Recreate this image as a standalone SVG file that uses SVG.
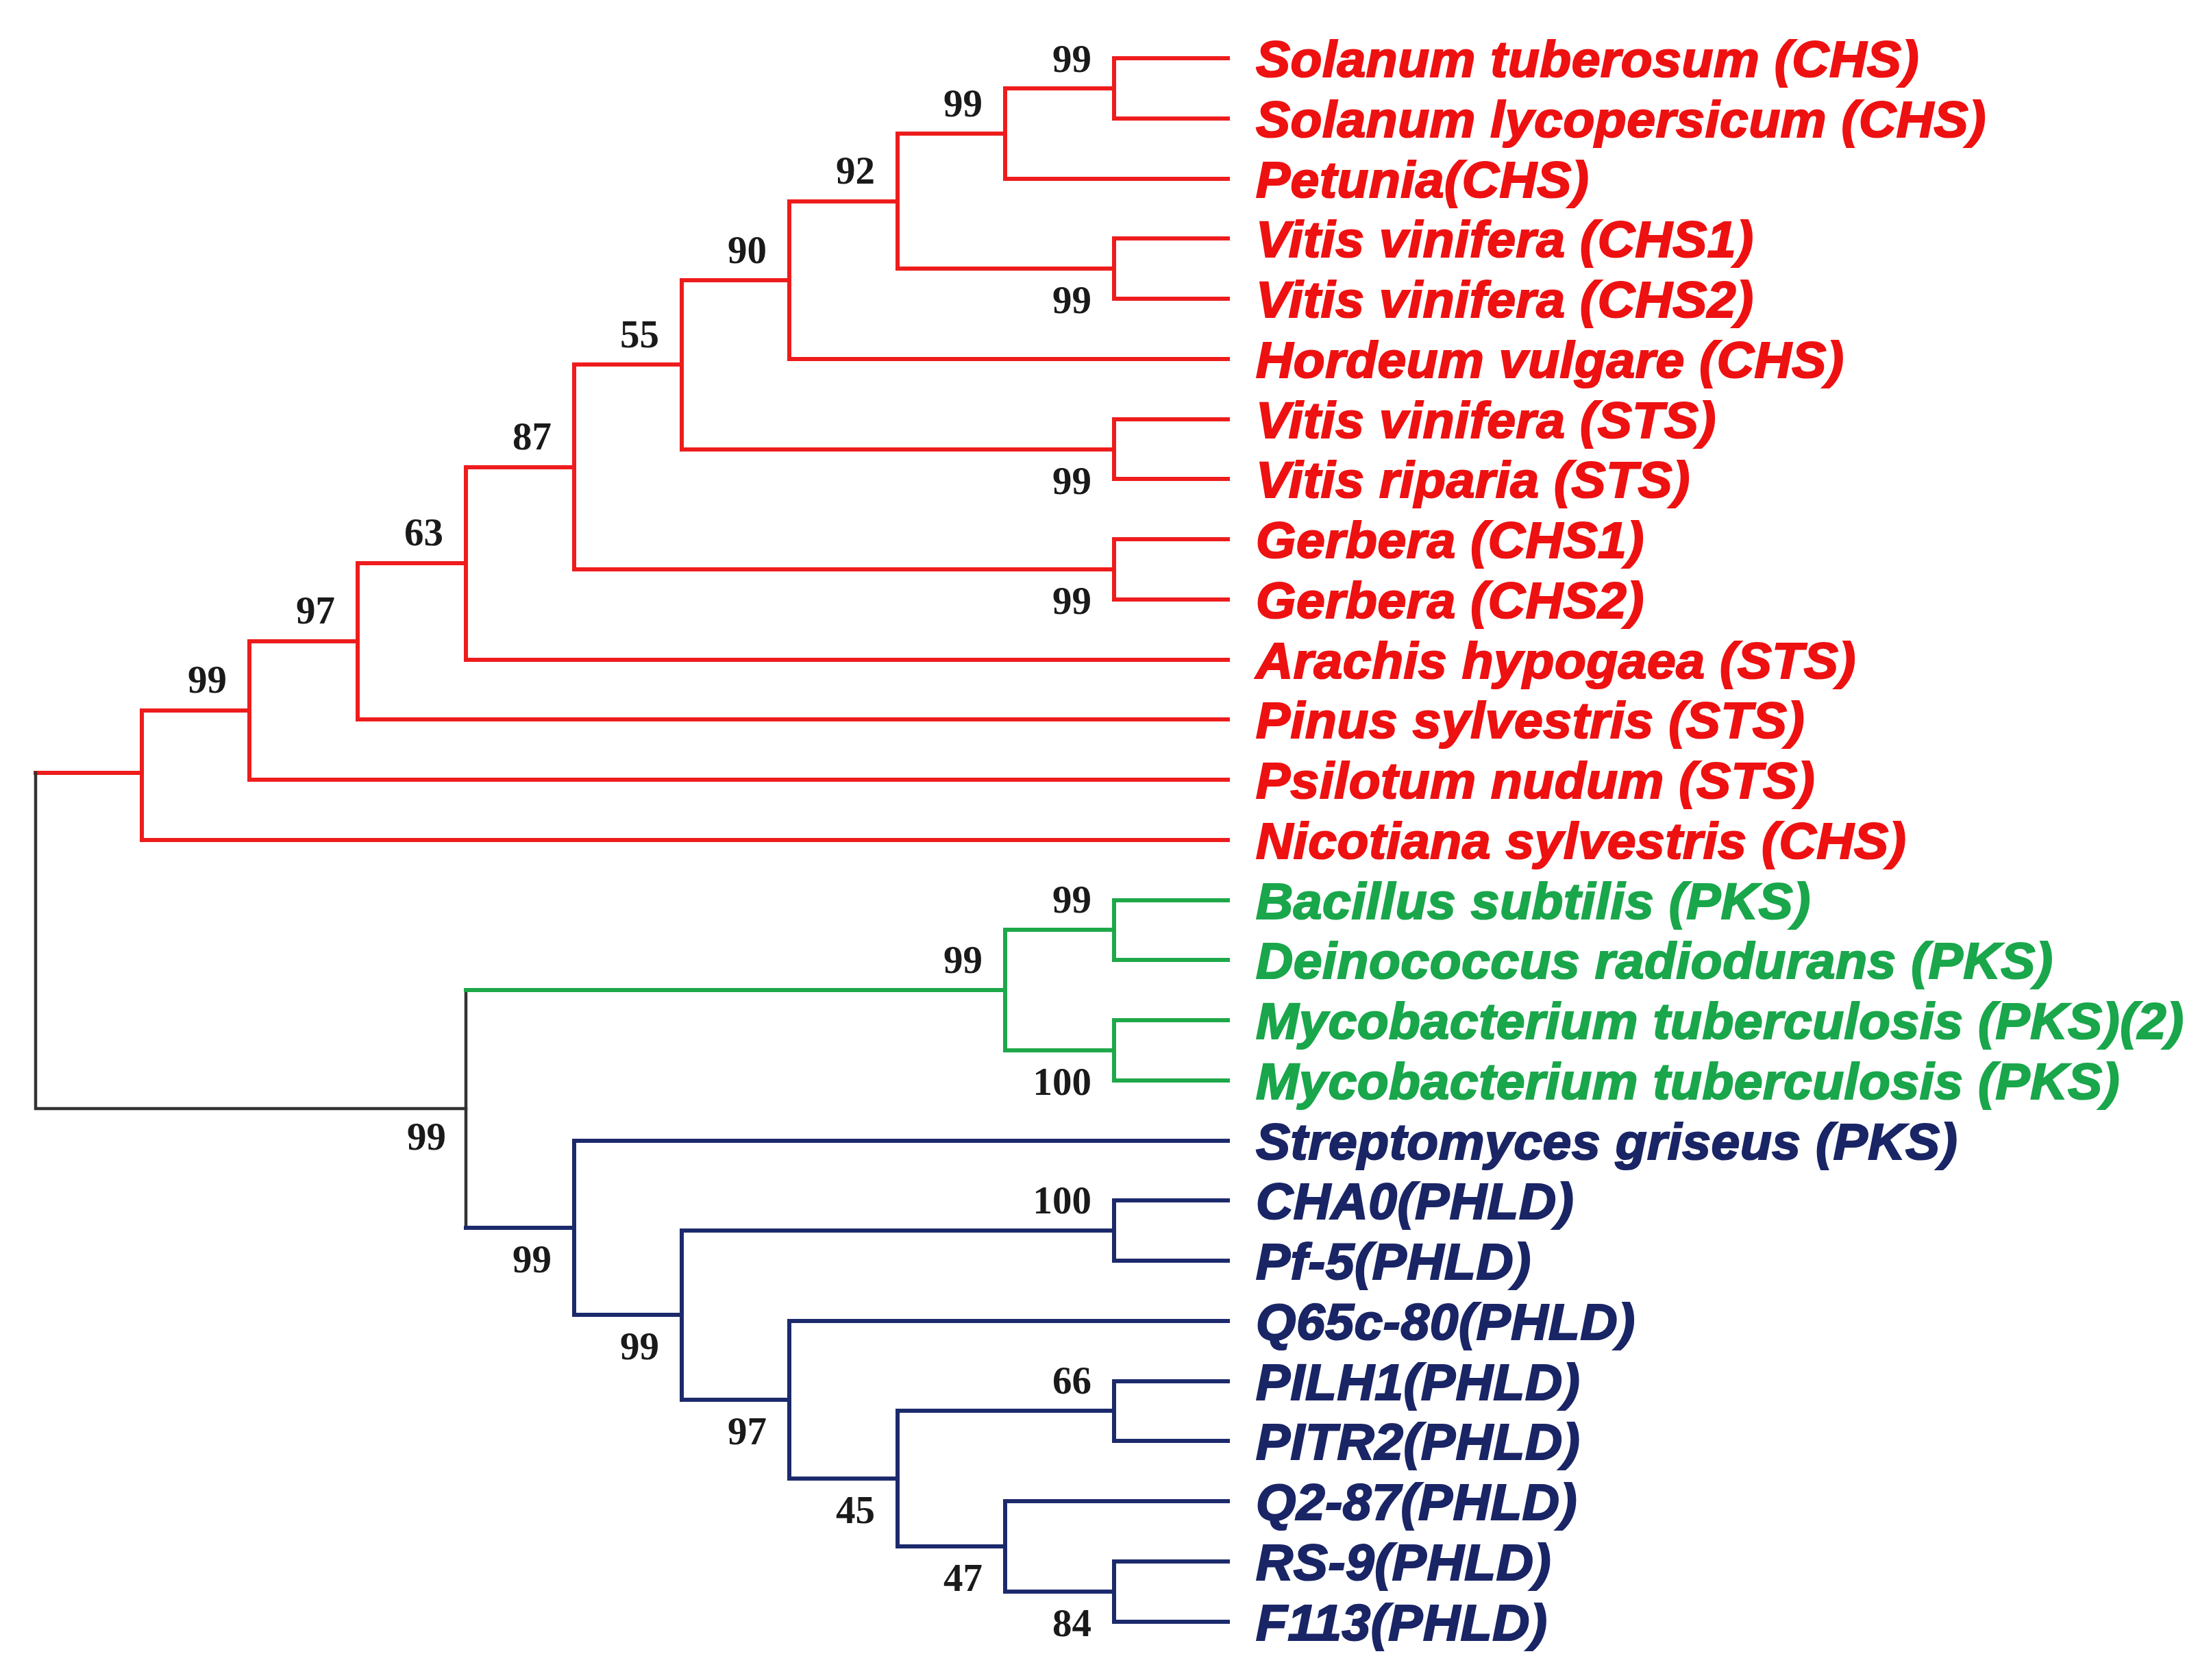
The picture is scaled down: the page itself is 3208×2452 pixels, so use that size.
<svg xmlns="http://www.w3.org/2000/svg" width="3208" height="2452" viewBox="0 0 3208 2452">
<style>
.br{fill:none;stroke-width:6;stroke-linecap:square;stroke-linejoin:miter}
.r{stroke:#ee1c1c}
.g{stroke:#1ea84a}
.b{stroke:#1c2a6c}
.k{stroke:#333333;stroke-width:4.5}
.lf{font-family:"Liberation Sans",Arial,sans-serif;font-weight:bold;font-style:italic;font-size:75px;letter-spacing:0.6px;stroke-width:2.2}
.lr{fill:#ee1111;stroke:#ee1111}
.lg{fill:#1aa64b;stroke:#1aa64b}
.lb{fill:#1a2566;stroke:#1a2566}
.bs{font-family:"Liberation Serif","Times New Roman",serif;font-weight:bold;font-size:57px;fill:#1a1a1a;text-anchor:end}
</style>
<rect width="3208" height="2452" fill="#ffffff"/>
<g id="connectors">
<path class="br r" d="M1792 85 H1626 V173 H1792"/>
<path class="br r" d="M1626 129 H1467 V261 H1792"/>
<path class="br r" d="M1792 348 H1626 V436 H1792"/>
<path class="br r" d="M1467 195 H1310 V392 H1626"/>
<path class="br r" d="M1310 294 H1152 V524 H1792"/>
<path class="br r" d="M1792 612 H1626 V699 H1792"/>
<path class="br r" d="M1152 409 H995 V656 H1626"/>
<path class="br r" d="M1792 787 H1626 V875 H1792"/>
<path class="br r" d="M995 532 H838 V831 H1626"/>
<path class="br r" d="M838 682 H680 V963 H1792"/>
<path class="br r" d="M680 822 H522 V1050 H1792"/>
<path class="br r" d="M522 936 H364 V1138 H1792"/>
<path class="br r" d="M364 1037 H207 V1226 H1792"/>
<path class="br r" d="M207 1128 H52"/>
<path class="br k" d="M52 1128 V1618 H680"/>
<path class="br k" d="M680 1445 V1792"/>
<path class="br g" d="M680 1445 H1467"/>
<path class="br g" d="M1792 1314 H1626 V1401 H1792"/>
<path class="br g" d="M1792 1489 H1626 V1577 H1792"/>
<path class="br g" d="M1626 1357 H1467 V1533 H1626"/>
<path class="br b" d="M680 1792 H838"/>
<path class="br b" d="M1792 1665 H838 V1919 H995"/>
<path class="br b" d="M1626 1796 H995 V2043 H1152"/>
<path class="br b" d="M1792 1752 H1626 V1840 H1792"/>
<path class="br b" d="M1792 1928 H1152 V2158 H1310"/>
<path class="br b" d="M1626 2059 H1310 V2257 H1467"/>
<path class="br b" d="M1792 2016 H1626 V2103 H1792"/>
<path class="br b" d="M1792 2191 H1467 V2323 H1626"/>
<path class="br b" d="M1792 2279 H1626 V2367 H1792"/>
</g>
<g id="support">
<text class="bs" x="1593" y="105">99</text>
<text class="bs" x="1434" y="170">99</text>
<text class="bs" x="1593" y="457">99</text>
<text class="bs" x="1277" y="268">92</text>
<text class="bs" x="1119" y="384">90</text>
<text class="bs" x="1593" y="721">99</text>
<text class="bs" x="962" y="507">55</text>
<text class="bs" x="1593" y="896">99</text>
<text class="bs" x="805" y="656">87</text>
<text class="bs" x="647" y="796">63</text>
<text class="bs" x="489" y="910">97</text>
<text class="bs" x="331" y="1011">99</text>
<text class="bs" x="651" y="1678">99</text>
<text class="bs" x="1593" y="1332">99</text>
<text class="bs" x="1593" y="1598">100</text>
<text class="bs" x="1434" y="1420">99</text>
<text class="bs" x="805" y="1857">99</text>
<text class="bs" x="962" y="1984">99</text>
<text class="bs" x="1593" y="1771">100</text>
<text class="bs" x="1119" y="2108">97</text>
<text class="bs" x="1277" y="2223">45</text>
<text class="bs" x="1593" y="2034">66</text>
<text class="bs" x="1434" y="2322">47</text>
<text class="bs" x="1593" y="2388">84</text>
</g>
<g id="leaf-solanum-tuberosum"><text class="lf lr" x="1833" y="112">Solanum tuberosum (CHS)</text></g>
<g id="leaf-solanum-lycopersicum"><text class="lf lr" x="1833" y="200">Solanum lycopersicum (CHS)</text></g>
<g id="leaf-petunia"><text class="lf lr" x="1833" y="288">Petunia(CHS)</text></g>
<g id="leaf-vitis-chs1"><text class="lf lr" x="1833" y="375">Vitis vinifera (CHS1)</text></g>
<g id="leaf-vitis-chs2"><text class="lf lr" x="1833" y="463">Vitis vinifera (CHS2)</text></g>
<g id="leaf-hordeum"><text class="lf lr" x="1833" y="551">Hordeum vulgare (CHS)</text></g>
<g id="leaf-vitis-sts"><text class="lf lr" x="1833" y="639">Vitis vinifera (STS)</text></g>
<g id="leaf-vitis-riparia"><text class="lf lr" x="1833" y="726">Vitis riparia (STS)</text></g>
<g id="leaf-gerbera-chs1"><text class="lf lr" x="1833" y="814">Gerbera (CHS1)</text></g>
<g id="leaf-gerbera-chs2"><text class="lf lr" x="1833" y="902">Gerbera (CHS2)</text></g>
<g id="leaf-arachis"><text class="lf lr" x="1833" y="990">Arachis hypogaea (STS)</text></g>
<g id="leaf-pinus"><text class="lf lr" x="1833" y="1077">Pinus sylvestris (STS)</text></g>
<g id="leaf-psilotum"><text class="lf lr" x="1833" y="1165">Psilotum nudum (STS)</text></g>
<g id="leaf-nicotiana"><text class="lf lr" x="1833" y="1253">Nicotiana sylvestris (CHS)</text></g>
<g id="leaf-bacillus"><text class="lf lg" x="1833" y="1341">Bacillus subtilis (PKS)</text></g>
<g id="leaf-deinococcus"><text class="lf lg" x="1833" y="1428">Deinococcus radiodurans (PKS)</text></g>
<g id="leaf-mycobacterium-2"><text class="lf lg" x="1833" y="1516">Mycobacterium tuberculosis (PKS)(2)</text></g>
<g id="leaf-mycobacterium"><text class="lf lg" x="1833" y="1604">Mycobacterium tuberculosis (PKS)</text></g>
<g id="leaf-streptomyces"><text class="lf lb" x="1833" y="1692">Streptomyces griseus (PKS)</text></g>
<g id="leaf-cha0"><text class="lf lb" x="1833" y="1779">CHA0(PHLD)</text></g>
<g id="leaf-pf5"><text class="lf lb" x="1833" y="1867">Pf-5(PHLD)</text></g>
<g id="leaf-q65c"><text class="lf lb" x="1833" y="1955">Q65c-80(PHLD)</text></g>
<g id="leaf-pilh1"><text class="lf lb" x="1833" y="2043">PILH1(PHLD)</text></g>
<g id="leaf-pitr2"><text class="lf lb" x="1833" y="2130">PITR2(PHLD)</text></g>
<g id="leaf-q287"><text class="lf lb" x="1833" y="2218">Q2-87(PHLD)</text></g>
<g id="leaf-rs9"><text class="lf lb" x="1833" y="2306">RS-9(PHLD)</text></g>
<g id="leaf-f113"><text class="lf lb" x="1833" y="2394">F113(PHLD)</text></g>
</svg>
